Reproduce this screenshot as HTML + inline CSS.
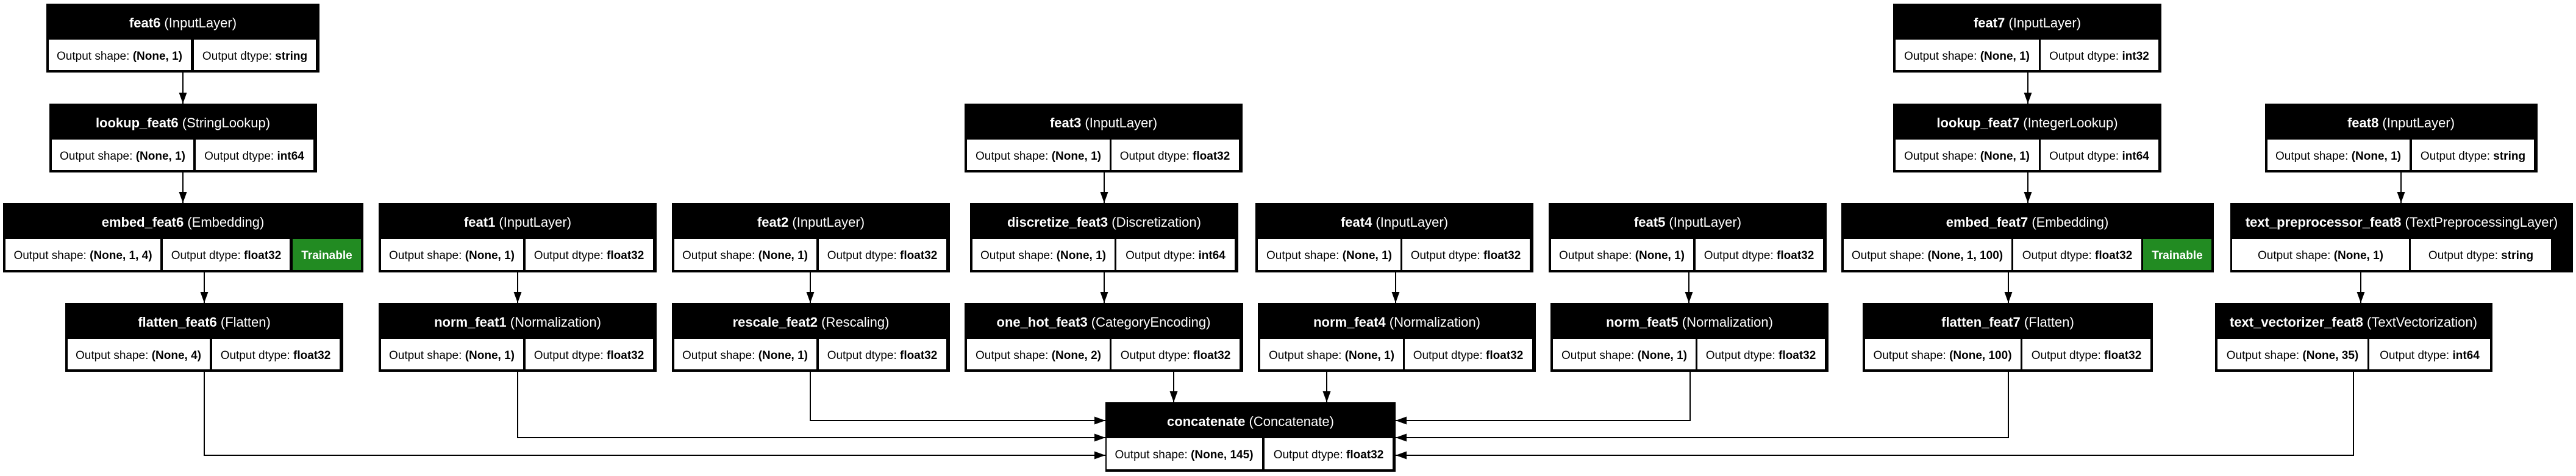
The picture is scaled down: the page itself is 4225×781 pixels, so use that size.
<!DOCTYPE html>
<html><head><meta charset="utf-8"><style>
html,body{margin:0;padding:0;background:#fff;}
svg{display:block;}
text{font-family:"Liberation Sans",Arial,sans-serif;}
.t{font-size:22px;fill:#fff;text-anchor:middle;}
.c{font-size:19px;fill:#000;text-anchor:middle;}
.g{font-size:19px;fill:#fff;text-anchor:middle;font-weight:bold;}
.b{font-weight:bold;}
</style></head><body>
<svg width="4225" height="781" viewBox="0 0 4225 781" xmlns="http://www.w3.org/2000/svg">
<defs><marker id="a" markerWidth="18" markerHeight="13" refX="18" refY="6.5" orient="auto" markerUnits="userSpaceOnUse"><path d="M0,0 L18,6.5 L0,13 z" fill="#000"/></marker></defs>
<g stroke="#000" stroke-width="2" fill="none" marker-end="url(#a)">
<path d="M300,119V170"/><path d="M300,283V333"/><path d="M335,447V497"/>
<path d="M849,447V497"/><path d="M1329,447V497"/>
<path d="M1811,283V333"/><path d="M1811,447V497"/>
<path d="M2289,447V497"/><path d="M2770,447V497"/>
<path d="M3326,119V170"/><path d="M3326,283V333"/><path d="M3294,447V497"/>
<path d="M3938,283V333"/><path d="M3872,447V497"/>
<path d="M1925,610V660"/><path d="M2176,610V660"/>
<path d="M335,610V747H1813"/><path d="M849,610V718H1813"/><path d="M1329,610V690H1813"/>
<path d="M2772,610V690H2289"/><path d="M3294,610V718H2289"/><path d="M3860,610V747H2289"/>
</g>
<g>
<rect x="76" y="6" width="448" height="113" fill="#000"/>
<rect x="80" y="65" width="233" height="50" fill="#fff"/><rect x="318" y="65" width="200" height="50" fill="#fff"/>
<text class="t" x="300" y="45"><tspan class="b">feat6</tspan> (InputLayer)</text>
<text class="c" x="196" y="98">Output shape: <tspan class="b">(None, 1)</tspan></text>
<text class="c" x="418" y="98">Output dtype: <tspan class="b">string</tspan></text>

<rect x="81" y="170" width="439" height="113" fill="#000"/>
<rect x="85" y="229" width="232" height="50" fill="#fff"/><rect x="321" y="229" width="193" height="50" fill="#fff"/>
<text class="t" x="300" y="209"><tspan class="b">lookup_feat6</tspan> (StringLookup)</text>
<text class="c" x="201" y="262">Output shape: <tspan class="b">(None, 1)</tspan></text>
<text class="c" x="417" y="262">Output dtype: <tspan class="b">int64</tspan></text>

<rect x="5" y="333" width="591" height="114" fill="#000"/>
<rect x="9" y="392" width="254" height="51" fill="#fff"/><rect x="267" y="392" width="208" height="51" fill="#fff"/><rect x="480" y="392" width="112" height="51" fill="#228b22"/>
<text class="t" x="300" y="372"><tspan class="b">embed_feat6</tspan> (Embedding)</text>
<text class="c" x="136" y="425">Output shape: <tspan class="b">(None, 1, 4)</tspan></text>
<text class="c" x="371" y="425">Output dtype: <tspan class="b">float32</tspan></text>
<text class="g" x="536" y="425">Trainable</text>

<rect x="107" y="497" width="456" height="113" fill="#000"/>
<rect x="111" y="556" width="233" height="50" fill="#fff"/><rect x="348" y="556" width="209" height="50" fill="#fff"/>
<text class="t" x="335" y="536"><tspan class="b">flatten_feat6</tspan> (Flatten)</text>
<text class="c" x="227" y="589">Output shape: <tspan class="b">(None, 4)</tspan></text>
<text class="c" x="452" y="589">Output dtype: <tspan class="b">float32</tspan></text>

<rect x="621" y="333" width="456" height="114" fill="#000"/>
<rect x="625" y="392" width="233" height="51" fill="#fff"/><rect x="862" y="392" width="209" height="51" fill="#fff"/>
<text class="t" x="849" y="372"><tspan class="b">feat1</tspan> (InputLayer)</text>
<text class="c" x="741" y="425">Output shape: <tspan class="b">(None, 1)</tspan></text>
<text class="c" x="966" y="425">Output dtype: <tspan class="b">float32</tspan></text>

<rect x="621" y="497" width="456" height="113" fill="#000"/>
<rect x="625" y="556" width="233" height="50" fill="#fff"/><rect x="862" y="556" width="209" height="50" fill="#fff"/>
<text class="t" x="849" y="536"><tspan class="b">norm_feat1</tspan> (Normalization)</text>
<text class="c" x="741" y="589">Output shape: <tspan class="b">(None, 1)</tspan></text>
<text class="c" x="966" y="589">Output dtype: <tspan class="b">float32</tspan></text>

<rect x="1102" y="333" width="456" height="114" fill="#000"/>
<rect x="1106" y="392" width="233" height="51" fill="#fff"/><rect x="1343" y="392" width="209" height="51" fill="#fff"/>
<text class="t" x="1330" y="372"><tspan class="b">feat2</tspan> (InputLayer)</text>
<text class="c" x="1222" y="425">Output shape: <tspan class="b">(None, 1)</tspan></text>
<text class="c" x="1447" y="425">Output dtype: <tspan class="b">float32</tspan></text>

<rect x="1102" y="497" width="456" height="113" fill="#000"/>
<rect x="1106" y="556" width="233" height="50" fill="#fff"/><rect x="1343" y="556" width="209" height="50" fill="#fff"/>
<text class="t" x="1330" y="536"><tspan class="b">rescale_feat2</tspan> (Rescaling)</text>
<text class="c" x="1222" y="589">Output shape: <tspan class="b">(None, 1)</tspan></text>
<text class="c" x="1447" y="589">Output dtype: <tspan class="b">float32</tspan></text>

<rect x="1582" y="170" width="456" height="113" fill="#000"/>
<rect x="1586" y="229" width="234" height="50" fill="#fff"/><rect x="1823" y="229" width="209" height="50" fill="#fff"/>
<text class="t" x="1810" y="209"><tspan class="b">feat3</tspan> (InputLayer)</text>
<text class="c" x="1703" y="262">Output shape: <tspan class="b">(None, 1)</tspan></text>
<text class="c" x="1927" y="262">Output dtype: <tspan class="b">float32</tspan></text>

<rect x="1591" y="333" width="440" height="114" fill="#000"/>
<rect x="1595" y="392" width="233" height="51" fill="#fff"/><rect x="1831" y="392" width="194" height="51" fill="#fff"/>
<text class="t" x="1811" y="372"><tspan class="b">discretize_feat3</tspan> (Discretization)</text>
<text class="c" x="1711" y="425">Output shape: <tspan class="b">(None, 1)</tspan></text>
<text class="c" x="1928" y="425">Output dtype: <tspan class="b">int64</tspan></text>

<rect x="1582" y="497" width="457" height="113" fill="#000"/>
<rect x="1586" y="556" width="234" height="50" fill="#fff"/><rect x="1823" y="556" width="210" height="50" fill="#fff"/>
<text class="t" x="1810" y="536"><tspan class="b">one_hot_feat3</tspan> (CategoryEncoding)</text>
<text class="c" x="1703" y="589">Output shape: <tspan class="b">(None, 2)</tspan></text>
<text class="c" x="1928" y="589">Output dtype: <tspan class="b">float32</tspan></text>

<rect x="2059" y="333" width="456" height="114" fill="#000"/>
<rect x="2063" y="392" width="234" height="51" fill="#fff"/><rect x="2300" y="392" width="209" height="51" fill="#fff"/>
<text class="t" x="2287" y="372"><tspan class="b">feat4</tspan> (InputLayer)</text>
<text class="c" x="2180" y="425">Output shape: <tspan class="b">(None, 1)</tspan></text>
<text class="c" x="2404" y="425">Output dtype: <tspan class="b">float32</tspan></text>

<rect x="2063" y="497" width="456" height="113" fill="#000"/>
<rect x="2067" y="556" width="234" height="50" fill="#fff"/><rect x="2304" y="556" width="209" height="50" fill="#fff"/>
<text class="t" x="2291" y="536"><tspan class="b">norm_feat4</tspan> (Normalization)</text>
<text class="c" x="2184" y="589">Output shape: <tspan class="b">(None, 1)</tspan></text>
<text class="c" x="2408" y="589">Output dtype: <tspan class="b">float32</tspan></text>

<rect x="2540" y="333" width="456" height="114" fill="#000"/>
<rect x="2544" y="392" width="233" height="51" fill="#fff"/><rect x="2781" y="392" width="209" height="51" fill="#fff"/>
<text class="t" x="2768" y="372"><tspan class="b">feat5</tspan> (InputLayer)</text>
<text class="c" x="2660" y="425">Output shape: <tspan class="b">(None, 1)</tspan></text>
<text class="c" x="2885" y="425">Output dtype: <tspan class="b">float32</tspan></text>

<rect x="2543" y="497" width="456" height="113" fill="#000"/>
<rect x="2547" y="556" width="234" height="50" fill="#fff"/><rect x="2784" y="556" width="209" height="50" fill="#fff"/>
<text class="t" x="2771" y="536"><tspan class="b">norm_feat5</tspan> (Normalization)</text>
<text class="c" x="2664" y="589">Output shape: <tspan class="b">(None, 1)</tspan></text>
<text class="c" x="2888" y="589">Output dtype: <tspan class="b">float32</tspan></text>

<rect x="3105" y="6" width="440" height="113" fill="#000"/>
<rect x="3109" y="65" width="235" height="50" fill="#fff"/><rect x="3347" y="65" width="193" height="50" fill="#fff"/>
<text class="t" x="3325" y="45"><tspan class="b">feat7</tspan> (InputLayer)</text>
<text class="c" x="3226" y="98">Output shape: <tspan class="b">(None, 1)</tspan></text>
<text class="c" x="3443" y="98">Output dtype: <tspan class="b">int32</tspan></text>

<rect x="3105" y="170" width="440" height="113" fill="#000"/>
<rect x="3109" y="229" width="235" height="50" fill="#fff"/><rect x="3347" y="229" width="193" height="50" fill="#fff"/>
<text class="t" x="3325" y="209"><tspan class="b">lookup_feat7</tspan> (IntegerLookup)</text>
<text class="c" x="3226" y="262">Output shape: <tspan class="b">(None, 1)</tspan></text>
<text class="c" x="3443" y="262">Output dtype: <tspan class="b">int64</tspan></text>

<rect x="3020" y="333" width="611" height="114" fill="#000"/>
<rect x="3024" y="392" width="275" height="51" fill="#fff"/><rect x="3302" y="392" width="210" height="51" fill="#fff"/><rect x="3515" y="392" width="112" height="51" fill="#228b22"/>
<text class="t" x="3325" y="372"><tspan class="b">embed_feat7</tspan> (Embedding)</text>
<text class="c" x="3161" y="425">Output shape: <tspan class="b">(None, 1, 100)</tspan></text>
<text class="c" x="3407" y="425">Output dtype: <tspan class="b">float32</tspan></text>
<text class="g" x="3571" y="425">Trainable</text>

<rect x="3055" y="497" width="476" height="113" fill="#000"/>
<rect x="3059" y="556" width="255" height="50" fill="#fff"/><rect x="3317" y="556" width="210" height="50" fill="#fff"/>
<text class="t" x="3293" y="536"><tspan class="b">flatten_feat7</tspan> (Flatten)</text>
<text class="c" x="3186" y="589">Output shape: <tspan class="b">(None, 100)</tspan></text>
<text class="c" x="3422" y="589">Output dtype: <tspan class="b">float32</tspan></text>

<rect x="3715" y="170" width="447" height="113" fill="#000"/>
<rect x="3719" y="229" width="233" height="50" fill="#fff"/><rect x="3956" y="229" width="200" height="50" fill="#fff"/>
<text class="t" x="3938" y="209"><tspan class="b">feat8</tspan> (InputLayer)</text>
<text class="c" x="3835" y="262">Output shape: <tspan class="b">(None, 1)</tspan></text>
<text class="c" x="4056" y="262">Output dtype: <tspan class="b">string</tspan></text>

<rect x="3658" y="333" width="562" height="114" fill="#000"/>
<rect x="3661" y="392" width="290" height="51" fill="#fff"/><rect x="3954" y="392" width="230" height="51" fill="#fff"/>
<text class="t" x="3939" y="372"><tspan class="b">text_preprocessor_feat8</tspan> (TextPreprocessingLayer)</text>
<text class="c" x="3806" y="425">Output shape: <tspan class="b">(None, 1)</tspan></text>
<text class="c" x="4069" y="425">Output dtype: <tspan class="b">string</tspan></text>

<rect x="3633" y="497" width="455" height="113" fill="#000"/>
<rect x="3637" y="556" width="246" height="50" fill="#fff"/><rect x="3886" y="556" width="198" height="50" fill="#fff"/>
<text class="t" x="3860" y="536"><tspan class="b">text_vectorizer_feat8</tspan> (TextVectorization)</text>
<text class="c" x="3760" y="589">Output shape: <tspan class="b">(None, 35)</tspan></text>
<text class="c" x="3985" y="589">Output dtype: <tspan class="b">int64</tspan></text>

<rect x="1813" y="660" width="476" height="114" fill="#000"/>
<rect x="1815" y="719" width="255" height="51" fill="#fff"/><rect x="2074" y="719" width="210" height="51" fill="#fff"/>
<text class="t" x="2051" y="699"><tspan class="b">concatenate</tspan> (Concatenate)</text>
<text class="c" x="1942" y="752">Output shape: <tspan class="b">(None, 145)</tspan></text>
<text class="c" x="2179" y="752">Output dtype: <tspan class="b">float32</tspan></text>
</g>
</svg>
</body></html>
